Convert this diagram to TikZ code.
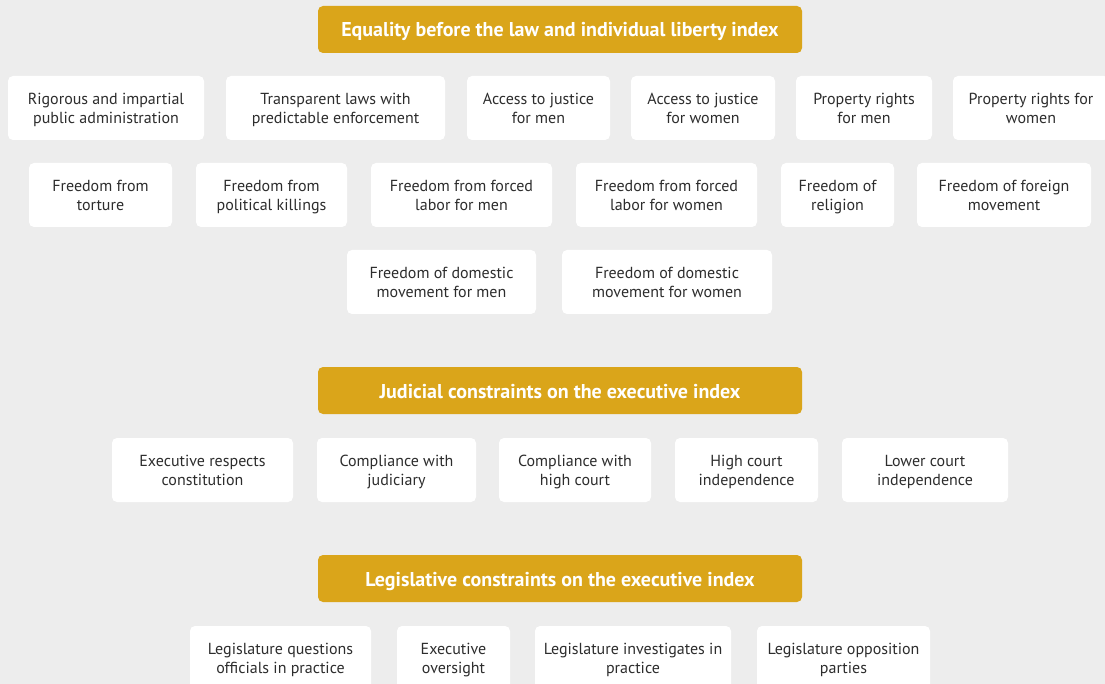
\documentclass[tikz,border=0pt]{standalone}
\usepackage{fontspec}
\setmainfont{PT Sans}
\usepackage{tikz}
\usetikzlibrary{positioning}

\definecolor{bggray}{RGB}{237,237,237}
\definecolor{gold}{RGB}{218,165,26}
\definecolor{txtgray}{RGB}{45,45,45}

\tikzset{
  header/.style={rectangle, rounded corners=5pt, fill=gold, text=white,
    font=\bfseries\fontsize{20}{24}\selectfont, inner sep=0pt,
    text height=15pt, text depth=0pt,
    minimum width=484, minimum height=47},
  item/.style={rectangle, rounded corners=5pt, fill=white, text=txtgray,
    align=center, font=\fontsize{16}{19}\selectfont, inner sep=0pt,
    text height=31pt, text depth=0pt,
    minimum height=64}
}

\begin{document}
\begin{tikzpicture}[x=1pt, y=-1pt]
            \clip (0,0) rectangle (1105,684);
            \fill[bggray] (0,0) rectangle (1105,684);

            % Equality before the law
            \node[header] (eqhead) at (560,29.5) {Equality before the law and individual liberty index};

            \node[item, minimum width=196] (rigor) at (106,108) {Rigorous and impartial\\public administration};
            \node[item, minimum width=219] (translaw) at (335.5,108) {Transparent laws with\\predictable enforcement};
            \node[item, minimum width=143] (justmen) at (538.5,108) {Access to justice\\for men};
            \node[item, minimum width=144] (justwomen) at (703,108) {Access to justice\\for women};
            \node[item, minimum width=136] (propmen) at (864,108) {Property rights\\for men};
            \node[item, minimum width=156] (propwomen) at (1031,108) {Property rights for\\women};

            \node[item, minimum width=143] (torture) at (100.5,195) {Freedom from\\torture};
            \node[item, minimum width=151] (killings) at (271.5,195) {Freedom from\\political killings};
            \node[item, minimum width=181] (labormen) at (461.5,195) {Freedom from forced\\labor for men};
            \node[item, minimum width=181] (laborwomen) at (666.5,195) {Freedom from forced\\labor for women};
            \node[item, minimum width=113] (religion) at (837.5,195) {Freedom of\\religion};
            \node[item, minimum width=174] (foreign) at (1004,195) {Freedom of foreign\\movement};

            \node[item, minimum width=189] (dommen) at (441.5,282) {Freedom of domestic\\movement for men};
            \node[item, minimum width=210] (domwomen) at (667,282) {Freedom of domestic\\movement for women};

            % Judicial constraints
            \node[header] (judhead) at (560,390.5) {Judicial constraints on the executive index};

            \node[item, minimum width=181] (execresp) at (202.5,470) {Executive respects\\constitution};
            \node[item, minimum width=159] (compjud) at (396.5,470) {Compliance with\\judiciary};
            \node[item, minimum width=152] (comphigh) at (575,470) {Compliance with\\high court};
            \node[item, minimum width=143] (highind) at (746.5,470) {High court\\independence};
            \node[item, minimum width=166] (lowind) at (925,470) {Lower court\\independence};

            % Legislative constraints
            \node[header] (leghead) at (560,578.5) {Legislative constraints on the executive index};

            \node[item, minimum width=181] (legquest) at (280.5,658) {Legislature questions\\officials in practice};
            \node[item, minimum width=113] (execover) at (453.5,658) {Executive\\oversight};
            \node[item, minimum width=196] (leginv) at (633,658) {Legislature investigates in\\practice};
            \node[item, minimum width=173] (legopp) at (843.5,658) {Legislature opposition\\parties};

        \end{tikzpicture}
\end{document}
